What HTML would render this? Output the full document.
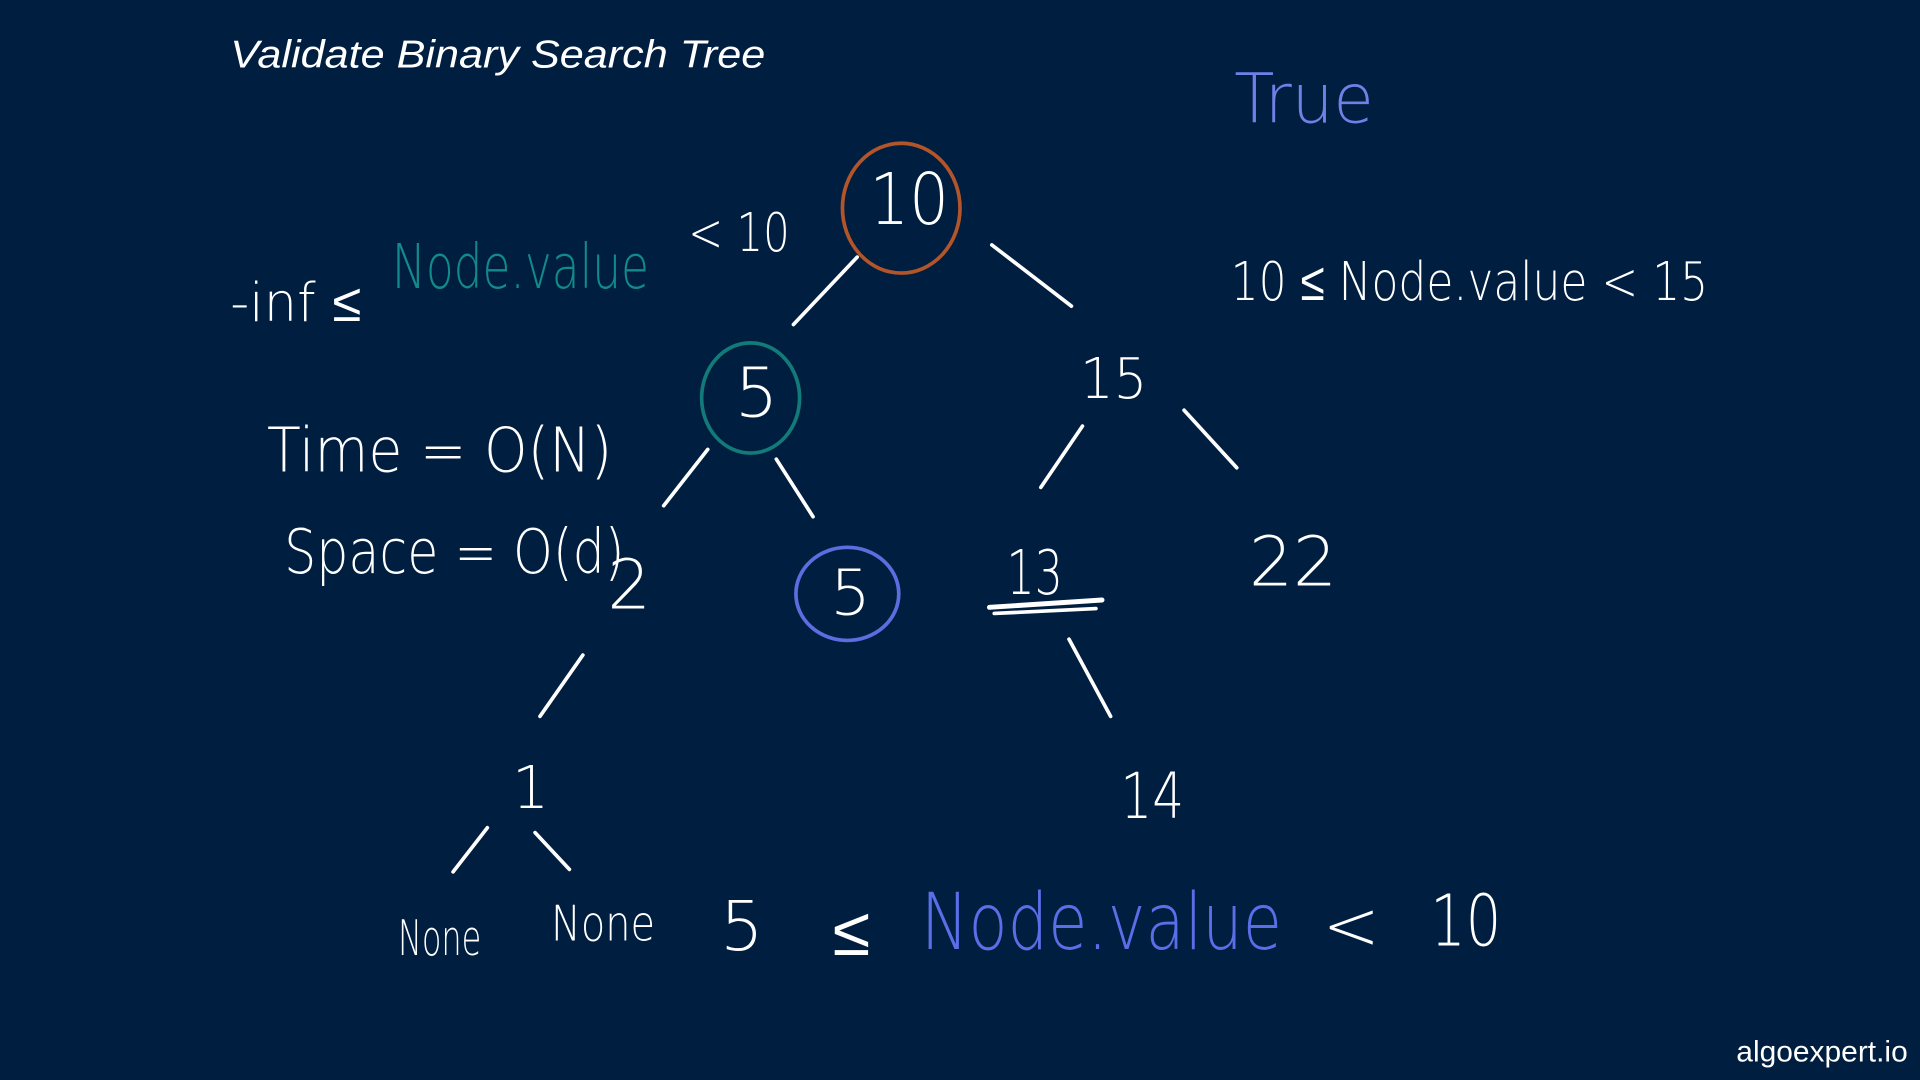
<!DOCTYPE html>
<html><head><meta charset="utf-8"><style>
html,body{margin:0;padding:0;background:#001e3f;width:1920px;height:1080px;overflow:hidden}
svg{display:block}
text{font-family:"Liberation Sans",sans-serif;fill:#fff}
.h{font-family:"DejaVu Sans","Liberation Sans",sans-serif;font-weight:200}
</style></head><body>
<svg width="1920" height="1080" viewBox="0 0 1568 882" xmlns="http://www.w3.org/2000/svg">
<rect width="1568" height="882" fill="#001e3f"/>
<text x="188" y="55" font-size="32" font-style="italic" textLength="437" lengthAdjust="spacingAndGlyphs">Validate Binary Search Tree</text>
<text class="h" x="1008" y="100" font-size="56" style="fill:#6f80e6" textLength="114" lengthAdjust="spacingAndGlyphs">True</text>
<g fill="none" stroke="#fff" stroke-width="3" stroke-linecap="round">
<ellipse cx="736" cy="170" rx="48" ry="53" stroke="#b3552a"/>
<ellipse cx="613" cy="325" rx="40" ry="45" stroke="#137a7a"/>
<ellipse cx="692" cy="485" rx="42" ry="38" stroke="#5a6ee0"/>
<line x1="700" y1="210" x2="648" y2="265"/>
<line x1="810" y1="200" x2="875" y2="250"/>
<line x1="578" y1="367" x2="542" y2="413"/>
<line x1="634" y1="375" x2="664" y2="422"/>
<line x1="884" y1="348" x2="850" y2="398"/>
<line x1="967" y1="335" x2="1010" y2="382"/>
<line x1="476" y1="535" x2="441" y2="585"/>
<line x1="873" y1="522" x2="907" y2="585"/>
<line x1="398" y1="676" x2="370" y2="712"/>
<line x1="437" y1="680" x2="465" y2="710"/>
<line x1="808" y1="496" x2="900" y2="490" stroke-width="4"/>
<line x1="812" y1="501" x2="895" y2="497" stroke-width="3"/>
</g>
<text class="h" x="710" y="183" font-size="58" textLength="65" lengthAdjust="spacingAndGlyphs">10</text>
<text class="h" x="188" y="262" font-size="44" textLength="107" lengthAdjust="spacingAndGlyphs">-inf ≤</text>
<text class="h" x="320" y="235" font-size="50" style="fill:#138a8a" textLength="210" lengthAdjust="spacingAndGlyphs">Node.value</text>
<text class="h" x="562" y="205" font-size="44" textLength="83" lengthAdjust="spacingAndGlyphs">&lt; 10</text>
<text class="h" x="1005" y="245" font-size="44" textLength="390" lengthAdjust="spacingAndGlyphs">10 ≤ Node.value &lt; 15</text>
<text class="h" x="600" y="340" font-size="56">5</text>
<text class="h" x="882" y="325" font-size="46" textLength="55" lengthAdjust="spacingAndGlyphs">15</text>
<text class="h" x="218" y="385" font-size="50" textLength="282" lengthAdjust="spacingAndGlyphs">Time = O(N)</text>
<text class="h" x="232" y="468" font-size="50" textLength="278" lengthAdjust="spacingAndGlyphs">Space = O(d)</text>
<text class="h" x="496" y="497" font-size="56">2</text>
<text class="h" x="678" y="502" font-size="52">5</text>
<text class="h" x="822" y="485" font-size="50" textLength="46" lengthAdjust="spacingAndGlyphs">13</text>
<text class="h" x="1020" y="478" font-size="56" textLength="72" lengthAdjust="spacingAndGlyphs">22</text>
<text class="h" x="418" y="660" font-size="48">1</text>
<text class="h" x="915" y="668" font-size="52" textLength="52" lengthAdjust="spacingAndGlyphs">14</text>
<text class="h" x="325" y="780" font-size="40" textLength="68" lengthAdjust="spacingAndGlyphs">None</text>
<text class="h" x="450" y="768" font-size="40" textLength="85" lengthAdjust="spacingAndGlyphs">None</text>
<text class="h" x="588" y="776" font-size="56">5</text>
<text class="h" x="680" y="780" font-size="56">≤</text>
<text class="h" x="752" y="775" font-size="64" style="fill:#5a6ee8" textLength="295" lengthAdjust="spacingAndGlyphs">Node.value</text>
<text class="h" x="1080" y="775" font-size="56">&lt;</text>
<text class="h" x="1168" y="772" font-size="58" textLength="58" lengthAdjust="spacingAndGlyphs">10</text>
<text x="1418" y="867" font-size="24" style="font-weight:300" textLength="140" lengthAdjust="spacingAndGlyphs">algoexpert.io</text>
</svg>
</body></html>
